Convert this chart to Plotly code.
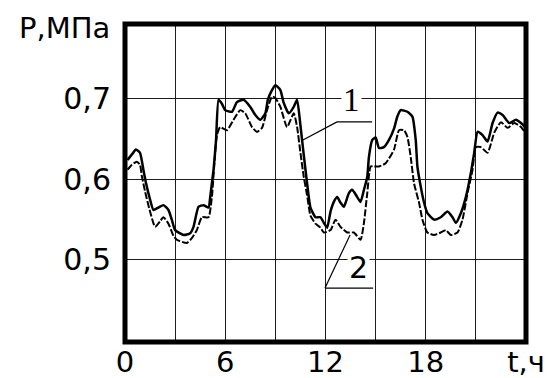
import plotly.graph_objects as go

# Pressure over a day, two measurement series (hours, MPa)
hours_1 = [0.15, 0.45, 0.65, 0.9, 1.1, 1.25, 1.5, 1.7, 2.0, 2.3, 2.6, 2.8, 3.0, 3.5, 3.9,
           4.1, 4.4, 4.7, 5.0, 5.1, 5.2, 5.3, 5.45, 5.6, 5.8, 6.0, 6.4, 6.7, 7.1, 7.5,
           7.8, 8.1, 8.4, 8.55, 8.75, 9.0, 9.3, 9.5, 9.8, 10.1, 10.3, 10.5, 10.7, 10.9,
           11.1, 11.4, 11.7, 11.9, 12.1, 12.3, 12.5, 12.7, 12.9, 13.1, 13.4, 13.6, 13.9,
           14.1, 14.3, 14.5, 14.6, 14.8, 15.0, 15.2, 15.5, 15.8, 16.1, 16.3, 16.5, 16.9,
           17.2, 17.4, 17.5, 17.7, 17.9, 18.1, 18.5, 18.9, 19.3, 19.6, 19.8, 20.1, 20.4,
           20.7, 20.9, 21.1, 21.4, 21.7, 22.0, 22.3, 22.6, 23.0, 23.4, 23.7, 23.95]
pressure_1 = [0.624, 0.632, 0.637, 0.633, 0.612, 0.596, 0.575, 0.562, 0.565, 0.568, 0.562,
              0.550, 0.537, 0.531, 0.533, 0.541, 0.566, 0.568, 0.565, 0.578, 0.595, 0.612,
              0.649, 0.699, 0.694, 0.686, 0.684, 0.696, 0.699, 0.690, 0.680, 0.674, 0.682,
              0.699, 0.709, 0.717, 0.711, 0.695, 0.682, 0.690, 0.699, 0.667, 0.630, 0.595,
              0.565, 0.553, 0.553, 0.546, 0.540, 0.560, 0.572, 0.578, 0.571, 0.566, 0.583,
              0.587, 0.578, 0.572, 0.587, 0.603, 0.628, 0.649, 0.652, 0.639, 0.640, 0.649,
              0.663, 0.678, 0.686, 0.684, 0.678, 0.649, 0.616, 0.591, 0.571, 0.558, 0.550,
              0.553, 0.560, 0.553, 0.546, 0.558, 0.578, 0.608, 0.633, 0.659, 0.655, 0.647,
              0.670, 0.683, 0.680, 0.670, 0.674, 0.670, 0.665]

hours_2 = [0.15, 0.4, 0.7, 0.9, 1.0, 1.2, 1.5, 1.8, 2.1, 2.3, 2.6, 2.9, 3.1, 3.7, 4.0,
           4.3, 4.6, 5.0, 5.2, 5.35, 5.5, 5.7, 6.1, 6.5, 6.9, 7.2, 7.6, 7.9, 8.2, 8.5,
           8.8, 9.0, 9.3, 9.7, 10.1, 10.3, 10.5, 10.7, 10.9, 11.1, 11.4, 11.7, 11.9, 12.3,
           12.6, 12.9, 13.3, 13.7, 14.1, 14.3, 14.5, 14.7, 14.9, 15.2, 15.6, 16.1, 16.4,
           16.7, 16.9, 17.1, 17.3, 17.6, 17.8, 18.1, 18.5, 18.9, 19.2, 19.5, 19.9, 20.2,
           20.5, 20.8, 21.0, 21.3, 21.7, 22.1, 22.5, 22.9, 23.3, 23.7, 23.95]
pressure_2 = [0.612, 0.618, 0.622, 0.618, 0.605, 0.585, 0.560, 0.541, 0.548, 0.553, 0.545,
              0.530, 0.525, 0.521, 0.527, 0.537, 0.553, 0.553, 0.578, 0.620, 0.655, 0.665,
              0.661, 0.674, 0.686, 0.682, 0.665, 0.659, 0.664, 0.686, 0.703, 0.701, 0.690,
              0.665, 0.682, 0.665, 0.633, 0.603, 0.580, 0.555, 0.545, 0.540, 0.534, 0.537,
              0.550, 0.541, 0.534, 0.534, 0.525, 0.546, 0.583, 0.616, 0.616, 0.616, 0.620,
              0.637, 0.661, 0.661, 0.653, 0.628, 0.595, 0.571, 0.550, 0.534, 0.531, 0.534,
              0.537, 0.531, 0.534, 0.550, 0.583, 0.612, 0.640, 0.640, 0.633, 0.658, 0.671,
              0.664, 0.670, 0.665, 0.658]

x_tick_vals = [0, 6, 12, 18, 24]
x_tick_text = ["0", "6", "12", "18", "t,ч"]
x_minor_vals = [3, 9, 15, 21]
y_tick_vals = [0.5, 0.6, 0.7]
y_tick_text = ["0,5", "0,6", "0,7"]

# Curve labels with their leader lines: (text, label x, label y, leader points)
label_1 = ("1", 13.58, 0.699, [(14.79, 0.6714), (12.69, 0.6714), (10.65, 0.649)])
label_2 = ("2", 14.0, 0.490, [(14.85, 0.465), (11.97, 0.465), (13.47, 0.531)])

FONT = "DejaVu Sans, Verdana, sans-serif"
GRID = "#1c1c1c"

fig = go.Figure()
fig.add_trace(go.Scatter(
    x=hours_2, y=pressure_2, mode="lines", name="2",
    line=dict(color="black", width=2, dash="7px,2px", shape="spline", smoothing=0.5),
))
fig.add_trace(go.Scatter(
    x=hours_1, y=pressure_1, mode="lines", name="1",
    line=dict(color="black", width=2.5, shape="spline", smoothing=0.5),
))

shapes = [dict(type="rect", xref="paper", yref="paper", x0=0, x1=1, y0=0, y1=1,
               line=dict(color="black", width=5), layer="above")]
for _, _, _, pts in (label_1, label_2):
    for (xa, ya), (xb, yb) in zip(pts[:-1], pts[1:]):
        shapes.append(dict(type="line", xref="x", yref="y", x0=xa, y0=ya, x1=xb, y1=yb,
                           line=dict(color="black", width=1.2), layer="above"))

annotations = [
    dict(text="P,МПа", xref="paper", yref="paper", x=0, y=1, xanchor="right",
         yanchor="middle", xshift=-13, yshift=-4, showarrow=False,
         font=dict(family=FONT, size=29, color="black")),
    dict(text=label_1[0], x=label_1[1], y=label_1[2], showarrow=False,
         bgcolor="white", borderpad=1,
         font=dict(family="Liberation Serif, Times New Roman, serif", size=33, color="black")),
    dict(text=label_2[0], x=label_2[1], y=label_2[2], showarrow=False,
         bgcolor="white", borderpad=1,
         font=dict(family=FONT, size=30, color="black")),
]

fig.update_layout(
    width=548, height=378,
    margin=dict(l=125, r=22, t=24, b=36),
    paper_bgcolor="white", plot_bgcolor="white",
    showlegend=False,
    shapes=shapes,
    annotations=annotations,
    xaxis=dict(
        range=[0, 24], tickmode="array", tickvals=x_tick_vals, ticktext=x_tick_text,
        showgrid=True, gridcolor=GRID, gridwidth=1.3, zeroline=False, showline=False,
        ticks="", ticklabelstandoff=0, automargin=False,
        tickfont=dict(family=FONT, size=29, color="black"),
        minor=dict(tickvals=x_minor_vals, showgrid=True, gridcolor=GRID, gridwidth=1.3),
    ),
    yaxis=dict(
        range=[0.398, 0.793], tickmode="array", tickvals=y_tick_vals, ticktext=y_tick_text,
        showgrid=True, gridcolor=GRID, gridwidth=1.3, zeroline=False, showline=False,
        ticks="", ticklabelstandoff=13, automargin=False,
        tickfont=dict(family=FONT, size=30, color="black"),
    ),
)

fig.write_html("out.html")
